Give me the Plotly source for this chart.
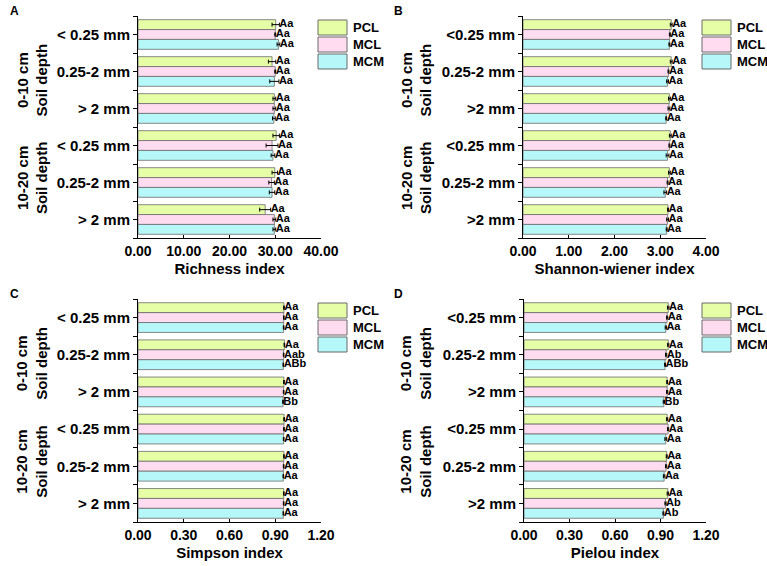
import plotly.graph_objects as go

# series and categories
series = ["PCL", "MCL", "MCM"]
colors = ["#E6FFA6", "#FFDCEF", "#B6F7F9"]
labels_ac = ["< 0.25 mm", "0.25-2 mm", "> 2 mm", "< 0.25 mm", "0.25-2 mm", "> 2 mm"]
labels_bd = ["<0.25 mm", "0.25-2 mm", ">2 mm", "<0.25 mm", "0.25-2 mm", ">2 mm"]
positions = [0, 1, 2, 3, 4, 5]

# A: richness
rich_pcl = [30.1, 29.3, 29.8, 30.2, 29.9, 27.8]
rich_mcl = [30.0, 30.0, 29.8, 29.3, 29.2, 29.8]
rich_mcm = [30.7, 29.8, 29.7, 29.5, 29.3, 29.8]
rich_pcl_err = [0.8, 0.8, 0.3, 0.7, 0.6, 1.2]
rich_mcl_err = [0.1, 0.1, 0.3, 1.3, 0.6, 0.3]
rich_mcm_err = [0.3, 1.0, 0.3, 0.4, 0.6, 0.3]
rich_pcl_sig = ["Aa", "Aa", "Aa", "Aa", "Aa", "Aa"]
rich_mcl_sig = ["Aa", "Aa", "Aa", "Aa", "Aa", "Aa"]
rich_mcm_sig = ["Aa", "Aa", "Aa", "Aa", "Aa", "Aa"]

# B: shannon-wiener
shan_pcl = [3.24, 3.24, 3.20, 3.22, 3.20, 3.17]
shan_mcl = [3.21, 3.18, 3.19, 3.20, 3.16, 3.16]
shan_mcm = [3.20, 3.16, 3.13, 3.16, 3.11, 3.14]
shan_pcl_err = [0.02, 0.02, 0.02, 0.02, 0.02, 0.01]
shan_mcl_err = [0.01, 0.01, 0.02, 0.01, 0.01, 0.02]
shan_mcm_err = [0.01, 0.02, 0.01, 0.03, 0.03, 0.01]
shan_pcl_sig = ["Aa", "Aa", "Aa", "Aa", "Aa", "Aa"]
shan_mcl_sig = ["Aa", "Aa", "Aa", "Aa", "Aa", "Aa"]
shan_mcm_sig = ["Aa", "Aa", "Aa", "Aa", "Aa", "Aa"]

# C: simpson
simp_pcl = [0.957, 0.960, 0.957, 0.958, 0.957, 0.956]
simp_mcl = [0.956, 0.955, 0.955, 0.957, 0.955, 0.955]
simp_mcm = [0.955, 0.953, 0.951, 0.955, 0.953, 0.953]
simp_pcl_err = [0.002, 0.002, 0.002, 0.002, 0.002, 0.002]
simp_mcl_err = [0.002, 0.002, 0.002, 0.002, 0.002, 0.002]
simp_mcm_err = [0.002, 0.002, 0.002, 0.002, 0.002, 0.002]
simp_pcl_sig = ["Aa", "Aa", "Aa", "Aa", "Aa", "Aa"]
simp_mcl_sig = ["Aa", "Aab", "Aa", "Aa", "Aa", "Aa"]
simp_mcm_sig = ["Aa", "ABb", "Bb", "Aa", "Aa", "Aa"]

# D: pielou
piel_pcl = [0.951, 0.951, 0.944, 0.944, 0.941, 0.948]
piel_mcl = [0.944, 0.937, 0.944, 0.950, 0.937, 0.933]
piel_mcm = [0.935, 0.930, 0.922, 0.935, 0.924, 0.919]
piel_pcl_err = [0.005, 0.004, 0.003, 0.004, 0.003, 0.004]
piel_mcl_err = [0.004, 0.004, 0.004, 0.004, 0.004, 0.004]
piel_mcm_err = [0.004, 0.003, 0.004, 0.006, 0.005, 0.003]
piel_pcl_sig = ["Aa", "Aa", "Aa", "Aa", "Aa", "Aa"]
piel_mcl_sig = ["Aa", "Ab", "Aa", "Aa", "Aa", "Ab"]
piel_mcm_sig = ["Aa", "ABb", "Bb", "Aa", "Aa", "Ab"]

panels = [
    dict(letter="A", title="Richness index", labels=labels_ac, rng=[0, 40], dtick=10,
         vals=[rich_pcl, rich_mcl, rich_mcm], errs=[rich_pcl_err, rich_mcl_err, rich_mcm_err],
         sigs=[rich_pcl_sig, rich_mcl_sig, rich_mcm_sig],
         xdom=[138 / 767, 321 / 767], ytop=16, ybot=238, left=0),
    dict(letter="B", title="Shannon-wiener index", labels=labels_bd, rng=[0, 4], dtick=1,
         vals=[shan_pcl, shan_mcl, shan_mcm], errs=[shan_pcl_err, shan_mcl_err, shan_mcm_err],
         sigs=[shan_pcl_sig, shan_mcl_sig, shan_mcm_sig],
         xdom=[523 / 767, 706 / 767], ytop=16, ybot=238, left=384),
    dict(letter="C", title="Simpson index", labels=labels_ac, rng=[0, 1.2], dtick=0.3,
         vals=[simp_pcl, simp_mcl, simp_mcm], errs=[simp_pcl_err, simp_mcl_err, simp_mcm_err],
         sigs=[simp_pcl_sig, simp_mcl_sig, simp_mcm_sig],
         xdom=[138 / 767, 321 / 767], ytop=299, ybot=522, left=0),
    dict(letter="D", title="Pielou index", labels=labels_bd, rng=[0, 1.2], dtick=0.3,
         vals=[piel_pcl, piel_mcl, piel_mcm], errs=[piel_pcl_err, piel_mcl_err, piel_mcm_err],
         sigs=[piel_pcl_sig, piel_mcl_sig, piel_mcm_sig],
         xdom=[524 / 767, 706 / 767], ytop=299, ybot=522, left=384),
]

W, H = 767, 566
FONT = "Liberation Sans, Arial, sans-serif"
bargap = 0.2
bw = (1 - bargap) / 3

fig = go.Figure()
layout = dict(
    width=W, height=H, margin=dict(l=0, r=0, t=0, b=0, autoexpand=False),
    paper_bgcolor="white", plot_bgcolor="white",
    barmode="group", bargap=bargap, bargroupgap=0,
    showlegend=False,
    font=dict(family=FONT, size=13, color="black"),
)
annotations = []
shapes = []

for k, p in enumerate(panels):
    n = "" if k == 0 else str(k + 1)
    xa, ya = "x" + n, "y" + n
    for i, name in enumerate(series):
        fig.add_trace(go.Bar(
            x=p["vals"][i], y=positions, orientation="h", name=name,
            marker=dict(color=colors[i], line=dict(color="#6b6b6b", width=0.8)),
            error_x=dict(type="data", array=p["errs"][i], color="black", thickness=1, width=2),
            xaxis=xa, yaxis=ya, offsetgroup=str(i),
        ))
    for i, name in enumerate(series):
        fig.add_trace(go.Scatter(
            x=[v + e for v, e in zip(p["vals"][i], p["errs"][i])],
            y=[pos + (i - 1) * bw for pos in positions],
            mode="text", text=["<b>" + s + "</b>" for s in p["sigs"][i]],
            textposition="middle right",
            textfont=dict(family=FONT, size=11, color="black"),
            xaxis=xa, yaxis=ya, cliponaxis=False, hoverinfo="skip",
        ))
    ydom = [1 - p["ybot"] / H, 1 - p["ytop"] / H]
    layout["xaxis" + n] = dict(
        domain=p["xdom"], anchor=ya, range=p["rng"], dtick=p["dtick"], tick0=0,
        tickformat=".2f", showline=True, linecolor="black", linewidth=1,
        ticks="inside", ticklen=3, tickcolor="black",
        showgrid=False, zeroline=False, automargin=False,
        tickfont=dict(family=FONT, size=14, color="black", weight="bold"),
        title=dict(text="<b>" + p["title"] + "</b>", standoff=5,
                   font=dict(family=FONT, size=15, color="black")),
    )
    layout["yaxis" + n] = dict(
        domain=ydom, anchor=xa, range=[5.5, -0.5], tickmode="array",
        tickvals=positions, ticktext=["<b>" + t + "</b>" for t in p["labels"]],
        showline=True, linecolor="black", linewidth=1, ticks="outside", ticklen=4,
        tickcolor="black", showgrid=False, zeroline=False, automargin=False,
        tickfont=dict(family=FONT, size=15, color="black"),
        minor=dict(tickmode="array", tickvals=[-0.5, 0.5, 1.5, 2.5, 3.5, 4.5, 5.5],
                   ticks="outside", ticklen=4, tickcolor="black", showgrid=False),
    )
    # panel letter
    annotations.append(dict(
        x=(p["left"] + 8) / W, y=1 - (p["ytop"] - 5) / H, xref="paper", yref="paper",
        text="<b>" + p["letter"] + "</b>", showarrow=False, xanchor="left", yanchor="middle",
        font=dict(family=FONT, size=12),
    ))
    # depth labels
    span = p["ybot"] - p["ytop"]
    for frac, depth in [(0.29, "0-10 cm"), (0.73, "10-20 cm")]:
        annotations.append(dict(
            x=(p["left"] + 32) / W, y=1 - (p["ytop"] + frac * span) / H,
            xref="paper", yref="paper", textangle=-90,
            text="<b>" + depth + "<br>Soil depth</b>", showarrow=False,
            xanchor="center", yanchor="middle",
            font=dict(family=FONT, size=15),
        ))
    # legend boxes
    lx0 = p["left"] + 318
    for i, name in enumerate(series):
        y0 = p["ytop"] + 4 + i * 17
        shapes.append(dict(
            type="rect", xref="paper", yref="paper",
            x0=lx0 / W, x1=(lx0 + 29) / W, y0=1 - y0 / H, y1=1 - (y0 + 15) / H,
            fillcolor=colors[i], line=dict(color="#6b6b6b", width=1),
        ))
        annotations.append(dict(
            x=(lx0 + 33) / W, y=1 - (y0 + 7.5) / H, xref="paper", yref="paper",
            text="<b>" + name + "</b>", showarrow=False, xanchor="left", yanchor="middle",
            font=dict(family=FONT, size=13),
        ))

layout["annotations"] = annotations
layout["shapes"] = shapes
fig.update_layout(**layout)
# drop the page's default body margin so the figure fills the window
fig.write_html("out.html", config={"displayModeBar": False},
               post_script="document.body.style.margin='0';")
